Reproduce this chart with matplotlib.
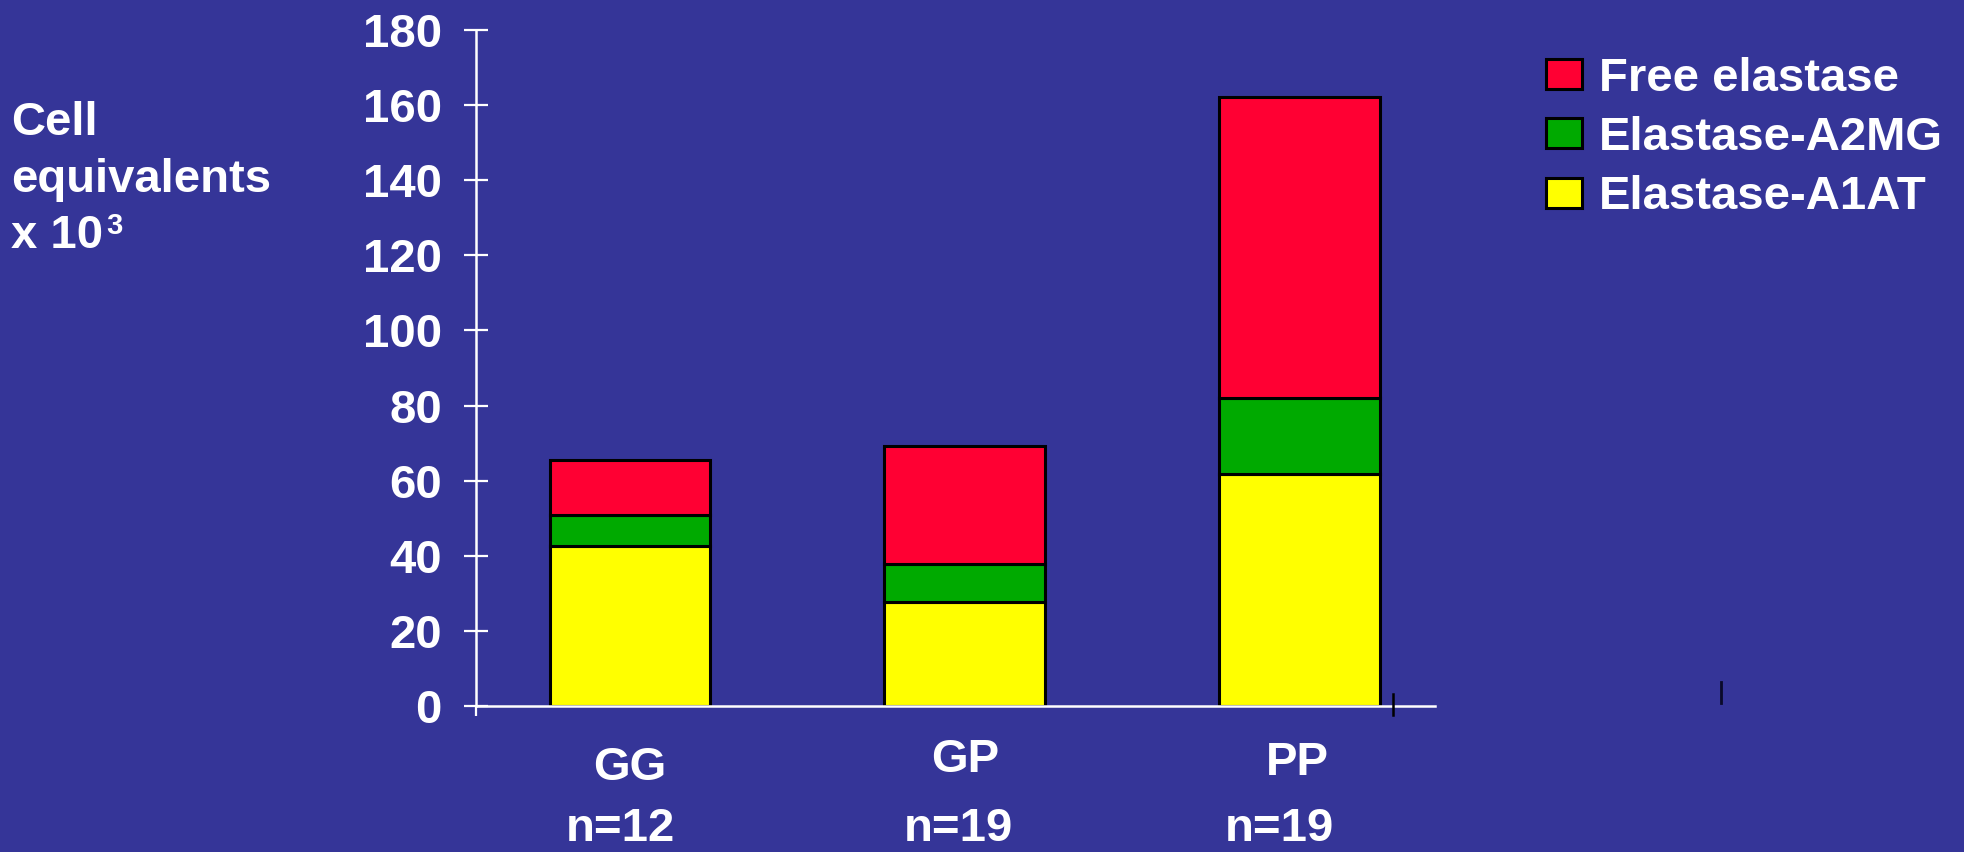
import matplotlib
matplotlib.use("Agg")
import matplotlib.pyplot as plt
import matplotlib.transforms as mtransforms
from matplotlib.lines import Line2D
import numpy as np

# Data (cell equivalents x 10^3)
groups = ["GG", "GP", "PP"]
group_n = ["n=12", "n=19", "n=19"]
elastase_a1at = [42.5, 27.7, 61.8]
elastase_a2mg = [8.4, 10.0, 20.2]
free_elastase = [14.6, 31.4, 80.2]
y_ticks = [0, 20, 40, 60, 80, 100, 120, 140, 160, 180]

BG = "#353598"
W, H = 1964, 852
plt.rcParams["font.family"] = ["Liberation Sans", "DejaVu Sans"]
plt.rcParams["font.weight"] = "bold"

fig = plt.figure(figsize=(W / 100, H / 100), dpi=100, facecolor=BG)
ax = fig.add_axes([476 / W, 1 - 706 / H, (1435 - 476) / W, (706 - 30) / H])
ax.set_facecolor(BG)

x = np.arange(len(groups))
bw = 0.48
a1 = np.array(elastase_a1at)
a2 = np.array(elastase_a2mg)
fr = np.array(free_elastase)

edge = dict(edgecolor="black", linewidth=2.2)
b1 = ax.bar(x, a1, bw, color="#FFFF00", label="Elastase-A1AT", **edge)
b2 = ax.bar(x, a2, bw, bottom=a1, color="#00AA00", label="Elastase-A2MG", **edge)
b3 = ax.bar(x, fr, bw, bottom=a1 + a2, color="#FF0033", label="Free elastase", **edge)

ax.set_ylim(0, 180)
ax.set_xlim(-0.46, 2.405)
ax.set_yticks(y_ticks)
ax.set_yticklabels([str(v) for v in y_ticks], fontsize=34, fontweight="bold", color="white")
ax.tick_params(axis="y", direction="inout", length=17, width=1.6, colors="white", pad=16)
ax.set_xticks([-0.46])
ax.set_xticklabels([""])
ax.tick_params(axis="x", direction="out", length=7, width=1.6, colors="white")

for s in ["top", "right"]:
    ax.spines[s].set_visible(False)
for s in ["left", "bottom"]:
    ax.spines[s].set_color("white")
    ax.spines[s].set_linewidth(1.8)

# Category and sample-size labels below the axis
trans = mtransforms.blended_transform_factory(ax.transData, fig.transFigure)
cat_baseline = [780, 772, 775]
cat_dx = [0.0, 0.0, -0.005]
n_dx = [-0.03, -0.02, -0.06]
for i, (g, n) in enumerate(zip(groups, group_n)):
    ax.text(x[i] + cat_dx[i], 1 - cat_baseline[i] / H, g, transform=trans,
            ha="center", va="baseline", fontsize=34, fontweight="bold", color="white")
    ax.text(x[i] + n_dx[i], 1 - 841 / H, n, transform=trans,
            ha="center", va="baseline", fontsize=34, fontweight="bold", color="white")

# Y-axis caption
fig.text(11 / W, 1 - 135 / H, "Cell", fontsize=34, fontweight="bold", color="white", va="baseline")
fig.text(11 / W, 1 - 192 / H, "equivalents", fontsize=34, fontweight="bold", color="white", va="baseline")
fig.text(11 / W, 1 - 248 / H, "x 10", fontsize=34, fontweight="bold", color="white", va="baseline")
fig.text(106 / W, 1 - 234 / H, "3", fontsize=21, fontweight="bold", color="white", va="baseline")

# Legend
leg = ax.legend(handles=[b3, b2, b1], loc="upper left",
                bbox_to_anchor=(1546 / W, 1 - 57 / H), bbox_transform=fig.transFigure,
                frameon=False, prop={"weight": "bold", "size": 34},
                handlelength=0.76, handleheight=0.6, handletextpad=0.36,
                labelspacing=0.32, borderpad=0, borderaxespad=0)
for t in leg.get_texts():
    t.set_color("white")

# Short dark marks near the axis end and to the right
fig.add_artist(Line2D([1392.6 / W, 1392.6 / W], [1 - 694 / H, 1 - 715 / H],
                      color="black", linewidth=1.8, transform=fig.transFigure))
fig.add_artist(Line2D([1721.3 / W, 1721.3 / W], [1 - 682 / H, 1 - 703 / H],
                      color="#0a0a2a", linewidth=2.0, transform=fig.transFigure))

fig.savefig("out.png", dpi=100, facecolor=BG)
